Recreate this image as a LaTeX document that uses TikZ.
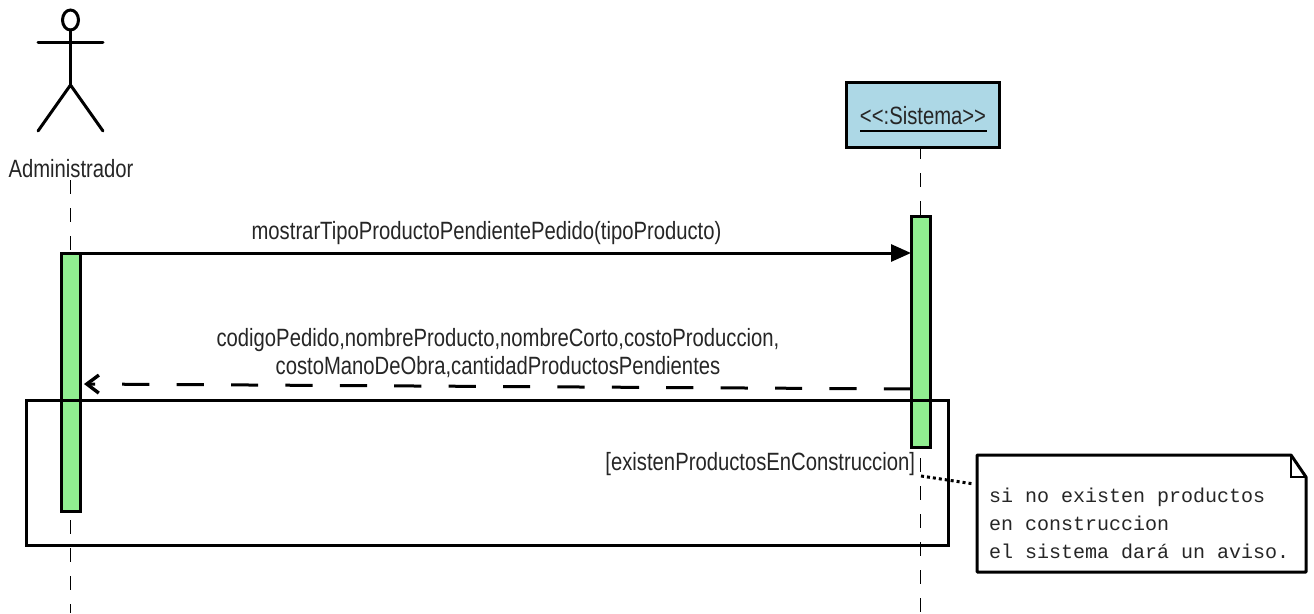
\documentclass[tikz,border=0pt]{standalone}
\usepackage{fontspec}
\setmainfont{Liberation Sans}
\newfontfamily\uisans[FakeStretch=0.81]{Liberation Sans}
\setmonofont{Liberation Mono}
\usetikzlibrary{arrows.meta,calc,shapes.geometric}
\definecolor{actgreen}{HTML}{90EE90}
\definecolor{objblue}{HTML}{ADD8E6}
\tikzset{
  ui/.style={font=\uisans\fontsize{25}{28.5}\selectfont,inner sep=0pt,outer sep=0pt,text=black!85},
  figure/.style={line width=3pt,line cap=round},
  lifeline/.style={line width=1.6pt,dash pattern=on 14pt off 14pt},
  activation/.style={draw,line width=3pt,fill=actgreen,minimum width=19pt,inner sep=0pt,outer sep=0pt,anchor=north},
  callmsg/.style={line width=3pt,-{Triangle[length=20pt,width=17pt]}},
  returnmsg/.style={line width=3pt,dash pattern=on 27.2pt off 27.2pt,-{Straight Barb[length=12pt,width=18pt,line width=3.4pt]}},
  framebox/.style={draw,line width=3pt,minimum width=922pt,minimum height=145pt,inner sep=0pt,outer sep=0pt,anchor=north west},
}
\begin{document}
\begin{tikzpicture}[x=1pt,y=-1pt]
\useasboundingbox (0,0) rectangle (1314,613);
\fill[white] (0,0) rectangle (1314,613);
% actor
\node[draw,ellipse,line width=3pt,minimum width=16pt,minimum height=20pt,inner sep=0pt,outer sep=0pt] (head) at (70.5,20) {};
\coordinate (hip) at (70.5,85);
\coordinate (armL) at (38,42);
\coordinate (armR) at (103,42);
\coordinate (legL) at (38,131);
\coordinate (legR) at (103,131);
\draw[figure] (head.south) -- (hip);
\draw[figure] (armL) -- (armR);
\draw[figure] (legL) -- (hip) -- (legR);
\node[ui] (admin) at (71,169) {Administrador};
% object
\node[draw,line width=3pt,fill=objblue,minimum width=153pt,minimum height=65pt,inner sep=0pt,outer sep=0pt] (sistema) at (922.5,114.5) {};
\node[ui] (sistemaText) at (923,116) {<{}<:Sistema>{}>};
\coordinate (ulL) at (860,131);
\coordinate (ulR) at (987,131);
\draw[line width=1.6pt] (ulL) -- (ulR);
% activations
\node[activation,minimum height=258pt] (actL) at (70.5,253) {};
\node[activation,minimum height=231pt] (actR) at (920.5,216) {};
% lifelines
\coordinate (llLend) at (70.5,613);
\coordinate (llLtop) at (70.5,180);
\coordinate (llLlow) at (70.5,520);
\coordinate (llRlow) at (920.5,458);
\coordinate (llRend) at (920.5,613);
\draw[lifeline] (llLtop) -- (actL.north);
\draw[lifeline] (llLlow) -- (llLend);
\draw[lifeline,dash phase=2pt] (sistema.south -| actR.north) -- (actR.north);
\draw[lifeline] (llRlow) -- (llRend);
% messages
\coordinate (m1end) at (actR.west |- actL.north);
\draw[callmsg] (actL.north east) -- (m1end);
\node[ui] (m1) at (486.5,233) {mostrarTipoProductoPendientePedido(tipoProducto)};
\coordinate (m2start) at (911,389);
\coordinate (m2end) at (84,384);
\draw[returnmsg] (m2start) -- (m2end);
\node[ui,align=center] (m2) at (498,353) {codigoPedido,nombreProducto,nombreCorto,costoProduccion,\\costoManoDeObra,cantidadProductosPendientes};
% frame
\node[framebox] (frame) at (26,400) {};
\node[ui,anchor=east] (guard) at (915,464) {[existenProductosEnConstruccion]};
% note
\node[inner sep=0pt,outer sep=0pt,minimum width=329pt,minimum height=117pt] (note) at (1141.5,513.5) {};
\draw[line width=3pt,fill=white,line join=round] (note.north west) -- ($(note.north east)+(-15,0)$) -- ($(note.north east)+(0,22)$) -- (note.south east) -- (note.south west) -- cycle;
\draw[line width=1.6pt] ($(note.north east)+(-15,0)$) -- ($(note.north east)+(-15,22)$) -- ($(note.north east)+(0,22)$);
\node[inner sep=0pt,outer sep=0pt,anchor=west,align=left,text=black!85,font=\ttfamily\fontsize{20}{28.3}\selectfont] (noteText) at (989,523.5) {si no existen productos\\en construccion\\el sistema dará un aviso.};
\coordinate (guardDot) at (921,476);
\coordinate (noteDot) at ($(note.west)+(-3,-29.5)$);
\draw[line width=3pt,dash pattern=on 3pt off 3pt] (guardDot) -- (noteDot);
\end{tikzpicture}
\end{document}
